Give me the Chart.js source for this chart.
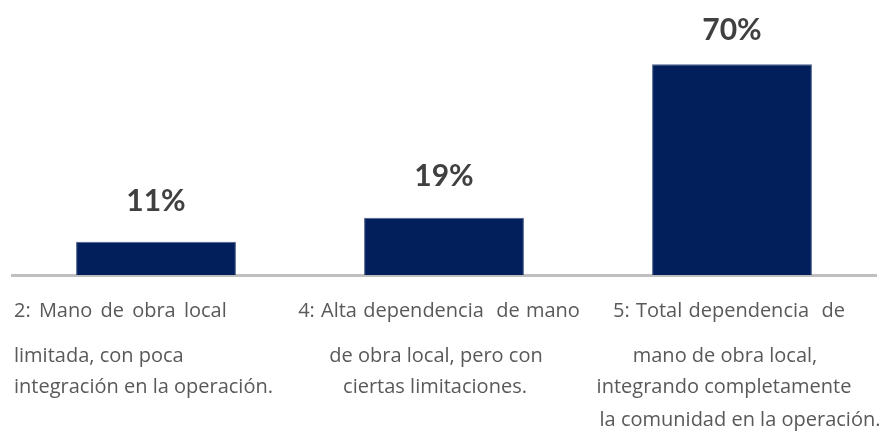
<!DOCTYPE html>
<html>
<head>
<meta charset="utf-8">
<script src="https://cdn.jsdelivr.net/npm/chart.js@4/dist/chart.umd.min.js"></script>
<style>
  html, body { margin: 0; padding: 0; background: #ffffff; }
  #wrap { width: 883px; height: 433px; position: relative; }
</style>
</head>
<body>
<div id="wrap"><canvas id="c" width="883" height="433"></canvas></div>
<script>
// ---- Data ----
const categories = [
  ["2: Mano de obra local", "limitada, con poca", "integración en la operación."],
  ["4: Alta dependencia  de mano", "de obra local, pero con", "ciertas limitaciones."],
  ["5: Total dependencia  de", "mano de obra local,", "integrando completamente", "la comunidad en la operación."]
];
const values = [11, 19, 70];
const valueLabels = ["11%", "19%", "70%"];

// ---- Layout/style config (not data) ----
const lineBaselines = [317, 362, 393, 426];
const labelStyle = [
  { align: "left",   dx: [-142, -142, -142], wordSpacing: [3, 0, 0] },
  { align: "center", dx: [-5, -8, -9],       wordSpacing: [1, 0, 0] },
  { align: "center", dx: [-3, -7, -8, 8],    wordSpacing: [1, 0, 0, 0] }
];

const labelPlugin = {
  id: "labels",
  afterDatasetsDraw(chart) {
    const ctx = chart.ctx;
    const xs = chart.scales.x;
    const meta = chart.getDatasetMeta(0);
    ctx.save();
    // value labels
    ctx.fillStyle = "#404040";
    ctx.font = "bold 30px Lato";
    ctx.textAlign = "center";
    ctx.textBaseline = "middle";
    meta.data.forEach((bar, i) => {
      ctx.fillText(valueLabels[i], bar.x, Math.max(30, bar.y - 41));
    });
    // category labels
    ctx.fillStyle = "#595959";
    ctx.font = "20px 'Open Sans'";
    ctx.textBaseline = "alphabetic";
    categories.forEach((lines, i) => {
      const cx = xs.getPixelForValue(i);
      const st = labelStyle[i];
      ctx.textAlign = st.align;
      lines.forEach((ln, j) => {
        ctx.wordSpacing = st.wordSpacing[j] + "px";
        ctx.fillText(ln, cx + st.dx[j], lineBaselines[j]);
      });
    });
    ctx.wordSpacing = "0px";
    ctx.restore();
  }
};

new Chart(document.getElementById("c"), {
  type: "bar",
  data: {
    labels: categories.map((c, i) => String(i)),
    datasets: [{
      data: values,
      backgroundColor: "#021f5c",
      borderColor: "#4a5f8c",
      borderWidth: 1,
      categoryPercentage: 1,
      barPercentage: 0.555
    }]
  },
  options: {
    responsive: false,
    animation: false,
    devicePixelRatio: 1,
    layout: { padding: { left: 12, right: 7, top: 0, bottom: 0 } },
    plugins: { legend: { display: false }, tooltip: { enabled: false } },
    scales: {
      x: {
        grid: { display: false },
        border: { display: true, color: "#bfbfbf", width: 3 },
        ticks: { display: false },
        afterFit(s) { s.height = 433 - 275; }
      },
      y: {
        display: false,
        min: 0,
        max: 91.3
      }
    }
  },
  plugins: [labelPlugin]
});
</script>
</body>
</html>
